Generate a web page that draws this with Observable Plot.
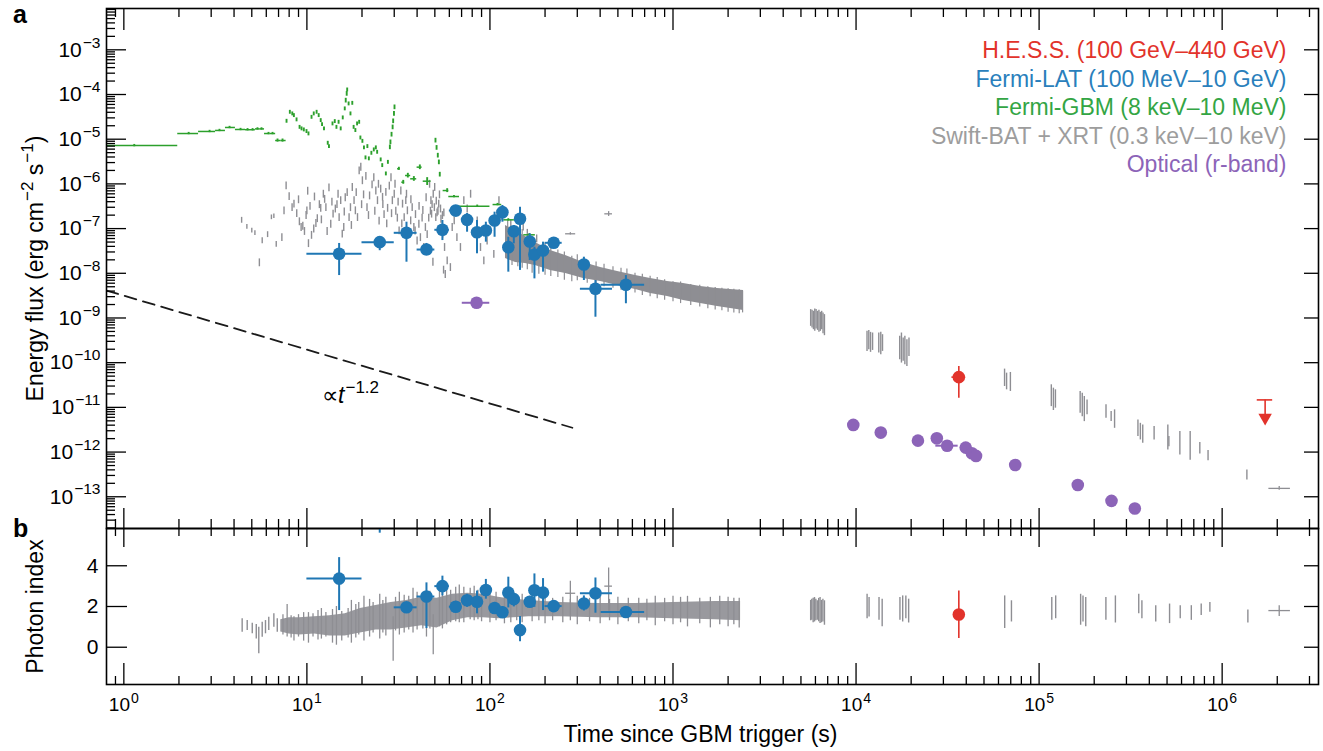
<!DOCTYPE html>
<html><head><meta charset="utf-8">
<script src="https://cdn.jsdelivr.net/npm/d3@7"></script>
<script src="https://cdn.jsdelivr.net/npm/@observablehq/plot@0.6"></script>
<style>
body{margin:0;background:#fff;}
#wrap{position:relative;width:1323px;height:751px;overflow:hidden;font-family:"Liberation Sans",Arial,Helvetica,sans-serif;}
#top,#bot{position:absolute;left:0;}
#top{top:0}
#bot{top:526px}
.pl{position:absolute;font-weight:bold;font-size:25px;color:#000;line-height:1}
</style></head><body>
<div id="wrap"><div id="top"></div><div id="bot"></div>
<div class="pl" style="left:13px;top:2px">a</div><div class="pl" style="left:13px;top:516px">b</div></div>
<script>
// ---------------- DATA ----------------
// Fermi-LAT (100 MeV-10 GeV)
const latT      = [15, 25, 35, 45, 55, 65, 75, 85, 95, 106, 117, 126, 135, 146, 165, 175, 195, 223, 326, 377, 553];
const latTLo    = [10, 20, 30, 40, 50, 60, 70, 80, 90, 100, 110, 120, 130, 140, 160, 170, 190, 200, 316, 312, 405];
const latTHi    = [20, 30, 40, 50, 60, 70, 80, 90, 100, 110, 120, 130, 140, 150, 170, 180, 200, 248, 336, 467, 700];
const latFlux   = [2.73e-8, 4.97e-8, 8.05e-8, 3.4e-8, 9.4e-8, 2.54e-7, 1.57e-7, 8.3e-8, 9.06e-8, 1.52e-7, 2.33e-7, 3.84e-8, 8.7e-8, 1.66e-7, 5.14e-8, 2.63e-8, 3.24e-8, 4.81e-8, 1.57e-8, 4.5e-9, 5.53e-9];
const latFluxLo = [8.9e-9, 3.2e-8, 1.77e-8, 2.64e-8, 5.4e-8, 1.8e-7, 8.3e-8, 2.73e-8, 4.97e-8, 6.4e-8, 1.39e-7, 1.06e-8, 4.57e-8, 1.16e-8, 1.93e-8, 7.5e-9, 1.06e-8, 3.84e-8, 6.9e-9, 1.04e-9, 2.08e-9];
const latFluxHi = [4.65e-8, 6.4e-8, 1.39e-7, 4.65e-8, 1.52e-7, 3.29e-7, 2.18e-7, 1.52e-7, 1.39e-7, 2.33e-7, 3.29e-7, 6.4e-8, 1.17e-7, 3.0e-7, 7.65e-8, 3.84e-8, 4.97e-8, 5.9e-8, 2.29e-8, 6.9e-9, 8.9e-9];
const latIdx    = [3.37, 6.6, 1.96, 2.49, 3.0, 1.99, 2.31, 2.23, 2.81, 1.93, 1.72, 2.68, 2.36, 0.84, 2.23, 2.80, 2.68, 2.02, 2.15, 2.65, 1.73];
const latIdxLo  = [1.80, 5.6, 1.72, 0.92, 2.52, 1.75, 1.96, 1.64, 2.36, 1.65, 1.45, 1.93, 1.98, 0.27, 1.96, 1.96, 1.80, 1.80, 1.78, 1.67, 1.50];
const latIdxHi  = [4.40, 7.6, 2.2, 3.16, 3.49, 2.25, 2.6, 2.76, 3.33, 2.2, 2.0, 3.44, 2.6, 1.51, 2.5, 3.6, 3.37, 2.25, 2.52, 3.4, 1.95];

// Optical (r-band)
const optT    = [84.5, 9660, 13650, 21780, 27620, 31450, 39720, 42940, 45230, 74050, 162700, 248600, 333400];
const optTLo  = [70.6, 9660, 13650, 21780, 27620, 27280, 39720, 42940, 45230, 74050, 162700, 248600, 333400];
const optTHi  = [99.8, 9660, 13650, 21780, 27620, 36120, 39720, 42940, 45230, 74050, 162700, 248600, 333400];
const optFlux = [2.19e-9, 4.05e-12, 2.73e-12, 1.80e-12, 2.03e-12, 1.39e-12, 1.26e-12, 9.4e-13, 8.2e-13, 5.13e-13, 1.83e-13, 8.1e-14, 5.47e-14];

// H.E.S.S. (100 GeV-440 GeV)
const hessT = [36430], hessTLo = [33400], hessTHi = [39700];
const hessFlux = [4.75e-11], hessFluxLo = [1.6e-11], hessFluxHi = [8.2e-11];
const hessIdx = [1.61], hessIdxLo = [0.43], hessIdxHi = [2.76];
// H.E.S.S. upper limit: [t, tLo, tHi, limit, arrow end]
const hessUL = [[1.717e6, 1.555e6, 1.888e6, 1.47e-11, 5.9e-12]];

// Fermi-GBM: [t, tLo, tHi, flux, relative error]
const gbm = [
  [1.14,0.5,1.97,7.2e-6,.06],[2.26,1.97,2.56,1.34e-5,.06],[2.94,2.56,3.17,1.49e-5,.06],[3.33,3.17,3.59,1.57e-5,.06],
  [3.78,3.59,4.07,1.83e-5,.06],[4.34,4.07,4.62,1.65e-5,.06],[4.74,4.62,4.92,1.63e-5,.06],[5.05,4.92,5.23,1.63e-5,.06],
  [5.37,5.23,5.52,1.7e-5,.06],[5.65,5.52,5.87,1.7e-5,.06],[6.17,5.87,6.3,1.34e-5,.06],[6.49,6.3,6.75,1.34e-5,.06],
  [6.91,6.75,7.2,9.35e-6,.08],[7.36,7.2,7.7,9.35e-6,.08],
  [7.74,7.74,7.74,2.53e-5,.1],[8.07,8.07,8.07,4.02e-5,.1],[8.32,8.32,8.32,3.7e-5,.1],[8.49,8.49,8.49,3.39e-5,.1],
  [8.78,8.78,8.78,2.72e-5,.1],[9.12,9.12,9.12,1.85e-5,.1],[9.35,9.35,9.35,1.71e-5,.1],[9.62,9.62,9.62,1.62e-5,.1],
  [9.95,9.95,9.95,1.49e-5,.1],[10.2,10.2,10.2,1.32e-5,.1],[10.6,10.6,10.6,3.1e-5,.1],[10.9,10.9,10.9,3.7e-5,.1],
  [11.3,11.3,11.3,4.02e-5,.1],[11.6,11.6,11.6,3.39e-5,.1],[11.9,11.9,11.9,2.62e-5,.1],[12.1,12.1,12.1,2.13e-5,.1],
  [12.4,12.4,12.4,1.71e-5,.1],[13.0,13.0,13.0,8.15e-6,.1],[13.2,13.2,13.2,6.87e-6,.1],[13.8,13.8,13.8,2.21e-5,.1],
  [14.2,14.2,14.2,2.49e-5,.1],[14.5,14.5,14.5,1.85e-5,.1],[14.9,14.9,14.9,2.4e-5,.1],[15.3,15.3,15.3,1.71e-5,.1],
  [15.7,15.7,15.7,3.01e-5,.1],[16.1,16.1,16.1,4.79e-5,.1],[16.3,16.3,16.3,7.34e-5,.12],[16.5,16.5,16.5,1.04e-4,.12],
  [16.6,16.6,16.6,1.27e-4,.1],[16.9,16.9,16.9,6.19e-5,.1],[17.3,17.3,17.3,3.7e-5,.1],[17.7,17.7,17.7,6.38e-5,.1],
  [18.0,18.0,18.0,1.85e-5,.1],[18.4,18.4,18.4,1.57e-5,.1],[18.8,18.8,18.8,2.21e-5,.1],[19.3,19.3,19.3,2.4e-5,.1],
  [19.6,19.6,19.6,1.07e-5,.1],[20.1,20.1,20.1,9.0e-6,.1],[20.5,20.5,20.5,6.43e-6,.1],[20.9,20.9,20.9,3.84e-6,.1],
  [21.4,21.4,21.4,6.87e-6,.1],[21.8,21.8,21.8,3.65e-6,.1],[22.5,22.5,22.5,4.86e-6,.1],[23.2,23.2,23.2,5.79e-6,.1],
  [23.8,23.8,23.8,6.43e-6,.1],[24.2,24.2,24.2,5.12e-6,.1],[25.3,25.3,25.3,3.46e-6,.1],[25.8,25.8,25.8,2.58e-6,.1],
  [27.0,27.0,27.0,1.68e-6,.1],[27.7,27.7,27.7,3.05e-6,.1],[28.4,28.4,28.4,6.62e-6,.12],[28.6,28.6,28.6,8.57e-6,.12],
  [29.0,29.0,29.0,1.27e-5,.12],[29.4,29.4,29.4,1.85e-5,.12],[29.6,29.6,29.6,2.53e-5,.12],[29.9,29.9,29.9,3.7e-5,.12],
  [30.1,30.1,30.1,5.2e-5,.12],
  [31.8,31.3,32.3,2.18e-6,.08],[33.6,33.0,34.2,1.09e-6,.1],[35.6,34.6,36.9,1.54e-6,.12],[38.4,36.9,39.8,1.30e-6,.12],
  [41.4,40.0,42.6,2.37e-6,.12],[45.4,43.2,47.7,1.15e-6,.2],
  [50.4,50.4,50.4,9.35e-6,.12],[51.1,51.1,51.1,6.43e-6,.12],[51.9,51.9,51.9,4.31e-6,.12],[52.6,52.6,52.6,3.05e-6,.12],
  [53.2,53.2,53.2,1.62e-6,.12],
  [58.4,55.5,59.6,7.1e-7,.1],[63.6,59.6,68.2,5.22e-7,.06],[85.2,66.3,100,3.17e-7,.06],[110,104,116,3.45e-7,.06],
  [126,119,136,1.57e-7,.06],[164,153,177,7.26e-8,.06]
];

// Swift-BAT + XRT, early scattered points: [t, flux, relative error]
const xrtEarly = [
  [4.4,1.55e-7,.15],[4.7,1.1e-7,.12],[5.0,9.1e-8,.12],[5.2,8.0e-8,.12],[5.5,1.75e-8,.2],[5.7,5.4e-8,.15],[6.1,7.4e-8,.15],
  [6.4,1.8e-7,.12],[6.6,1.9e-7,.12],[6.8,4.5e-8,.15],[7.3,6.4e-8,.2],[7.5,2.55e-7,.2],[7.7,9.2e-7,.2],[8.0,5.3e-7,.2],
  [8.3,3.0e-7,.2],[8.5,3.6e-7,.2],[8.8,2.2e-7,.2],[9.0,4.5e-7,.2],[9.1,1.45e-7,.2],[9.3,1.08e-7,.2],[9.5,1.15e-7,.2],[9.7,8.8e-8,.2],[9.9,2.0e-7,.2],
  [10.0,2.55e-7,.2],[10.1,7.0e-7,.2],[10.2,4.7e-8,.2],[10.4,3.2e-7,.2],[10.6,7.2e-8,.2],[10.9,1.0e-7,.2],[11.0,5.2e-7,.2],[11.2,1.33e-7,.2],[11.4,1.7e-7,.2],
  [11.7,3.5e-7,.2],[11.9,2.9e-7,.2],[12.0,1.6e-7,.2],[12.3,6.0e-7,.2],[12.5,4.6e-7,.2],[12.7,3.0e-7,.2],[13.2,8.3e-7,.2],[12.9,8.8e-8,.2],[13.5,1.28e-7,.2],
  [13.7,4.0e-7,.2],[13.9,2.15e-7,.2],[14.3,2.8e-7,.2],[14.6,3.5e-7,.2],[14.8,6.0e-7,.2],[15.0,1.8e-7,.2],[15.3,4.3e-7,.2],[15.6,7.7e-8,.2],[15.9,1.08e-7,.2],
  [16.0,2.4e-7,.2],[16.2,5.0e-7,.2],[16.6,6.5e-7,.2],[17.0,1.8e-7,.2],[17.3,3.0e-7,.2],[17.5,1.2e-7,.2],[17.7,8.5e-7,.2],[18.1,4.3e-7,.2],[18.4,2.55e-7,.2],
  [18.6,6.5e-7,.2],[18.9,1.8e-7,.2],[19.3,2.0e-6,.2],[19.7,2.4e-6,.2],[19.9,3.5e-7,.2],[20.1,1.2e-6,.2],[20.4,5.8e-7,.2],[21.0,1.5e-6,.2],[21.3,3.0e-7,.2],
  [21.7,2.0e-7,.2],[22.0,5.5e-7,.2],[22.7,9.7e-7,.2],[23.2,1.4e-6,.2],[23.5,2.5e-7,.2],[23.8,7.1e-7,.2],[24.3,4.3e-7,.2],[24.6,1.0e-6,.2],[24.8,1.5e-7,.2],
  [25.3,7.8e-7,.2],[25.9,5.1e-7,.2],[26.0,3.5e-7,.2],[26.4,2.1e-7,.2],[27.0,6.6e-7,.2],[27.3,1.3e-7,.2],[27.6,2.9e-7,.2],[28.2,9.1e-7,.2],[28.8,1.4e-6,.2],
  [29.0,2.2e-7,.2],[29.3,4.3e-7,.2],[30.0,6.0e-7,.2],[30.3,1.0e-6,.2],[30.6,2.5e-7,.2],[31.2,1.75e-7,.2],[31.5,4.0e-7,.2],[31.9,9.1e-8,.2],[32.6,7.1e-7,.2],
  [33.0,1.3e-7,.2],[33.3,3.6e-7,.2],[34.0,1.8e-7,.2],[34.7,4.3e-7,.2],[35.0,6.0e-7,.2],[35.4,2.55e-7,.2],[36.2,7.5e-8,.2],[36.9,1.52e-7,.2],[37.0,4.5e-7,.2],
  [37.6,3.0e-7,.2],[38.4,1.08e-7,.2],[39.0,9.0e-8,.2],[39.2,2.1e-7,.2],[40.0,5.4e-8,.2],[40.9,1.28e-7,.2],[41.0,3.2e-7,.2],[41.7,6.4e-8,.2],[42.6,1.75e-7,.2],
  [43.0,2.6e-7,.2],[43.5,3.85e-8,.2],[44.4,1.08e-7,.2],[44.8,5.0e-7,.2],[45.4,7.5e-8,.2],[46.3,1.75e-7,.2],
  [46.8,1.0e-6,.2],[47.3,2.5e-7,.2],[47.6,4.3e-7,.2],[48.0,2.15e-7,.2],[48.3,3.5e-7,.2],[48.8,1.8e-8,.2],[49.0,6.0e-7,.2],
  [49.7,3.0e-7,.2],[49.9,8.5e-7,.2],[50.6,1.8e-7,.2],[50.9,4.2e-7,.2],[51.4,2.3e-7,.2],[52.0,2.5e-7,.2],[52.5,3.6e-7,.2],
  [53.0,5.8e-7,.2],[53.7,2.8e-7,.2],[54.0,1.65e-7,.2],[55.0,2.0e-7,.2],[55.2,7.7e-8,.2],[55.8,1.2e-8,.2],[56.0,2.3e-7,.2],
  [56.5,3.85e-8,.2],[57.0,9.6e-9,.2],[58.4,1.94e-8,.2],[60.8,1.37e-8,.2],[62.2,1.08e-7,.2],[63.8,1.52e-7,.2],[66.0,6.4e-8,.2],
  [69.0,3.85e-8,.2],[72,4.3e-7,.2],[75.1,2.8e-7,.2],[78.4,6.0e-7,.2],[81.7,7.7e-8,.2],[85.2,1.52e-7,.2],[88.8,3.85e-8,.2],
  [92.6,1.94e-8,.2],[96.5,5.4e-8,.2],[100.6,9.1e-8,.2],[105,2.7e-8,.2],[109.5,2.15e-7,.2],[112,4.3e-7,.2],
  [115,1.9e-7,.2],[122,2.4e-7,.2],[130,1.3e-7,.2],[140,1.6e-7,.2],[152,1.1e-7,.2],[160,8.0e-8,.2],[180,6.0e-8,.2]
];
// Swift-XRT dense decay band: [t, lower flux, upper flux]
const xrtBand = [
  [121.6,2.14e-8,1.17e-7],[138,1.75e-8,9.06e-8],[156,1.66e-8,6.65e-8],[177,1.50e-8,4.89e-8],[214,1.16e-8,3.24e-8],
  [259,9.9e-9,2.50e-8],[324,7.66e-9,1.75e-8],[402,6.56e-9,1.35e-8],[498,5.34e-9,1.10e-8],[624,4.34e-9,8.93e-9],
  [754,3.53e-9,7.66e-9],[933,3.03e-9,6.56e-9],[1141,2.46e-9,5.92e-9],[1413,2.11e-9,5.07e-9],[1750,1.81e-9,4.57e-9],
  [2061,1.63e-9,4.34e-9],[2427,1.47e-9,4.12e-9]
];
const xrtBandSpikes = [
  [125,2.0e-8,1.5e-7],[132,1.5e-8,1.0e-7],[142,1.4e-8,8.0e-8],[150,1.3e-8,9.5e-8],[160,1.2e-8,6.5e-8],[170,1.0e-8,5.5e-8],
  [185,9.5e-9,4.2e-8],[200,9.0e-9,4.6e-8],[215,8.5e-9,3.6e-8],[235,8.0e-9,3.3e-8],[255,7.0e-9,3.0e-8],[280,6.5e-9,2.4e-8],
  [300,6.8e-9,2.6e-8],[340,6.0e-9,1.9e-8],[380,5.2e-9,1.8e-8],[420,5.0e-9,1.6e-8],[470,4.6e-9,1.4e-8],[520,4.2e-9,1.3e-8],
  [560,3.9e-9,1.25e-8],[620,3.6e-9,1.0e-8],[680,3.2e-9,9.5e-9],[750,3.0e-9,8.6e-9],[820,2.7e-9,8.0e-9],[900,2.5e-9,7.2e-9],
  [1000,2.3e-9,6.5e-9],[1100,2.1e-9,6.4e-9],[1250,1.9e-9,5.6e-9],[1400,1.75e-9,5.4e-9],[1550,1.6e-9,5.0e-9],[1700,1.5e-9,4.8e-9],
  [1850,1.45e-9,4.6e-9],[2000,1.35e-9,4.5e-9],[2150,1.3e-9,4.4e-9],[2300,1.25e-9,4.3e-9],[2400,1.3e-9,4.0e-9]
];
// Swift-XRT late-time measurements: [t, lower flux, upper flux]
const xrtLate = [
  [5650,6.5e-10,1.54e-9],[5750,5.97e-10,1.49e-9],[5850,5.47e-10,1.41e-9],[5950,5.02e-10,1.59e-9],[6050,5.67e-10,1.54e-9],
  [6160,5.28e-10,1.41e-9],[6270,4.77e-10,1.49e-9],[6380,5.02e-10,1.34e-9],[6490,5.47e-10,1.41e-9],[6600,4.45e-10,1.29e-9],
  [6720,4.02e-10,1.19e-9],
  [11480,1.79e-10,5.02e-10],[11740,1.95e-10,5.28e-10],[12000,1.70e-10,4.77e-10],[12310,1.88e-10,4.61e-10],
  [13310,1.64e-10,4.61e-10],[13650,1.51e-10,4.77e-10],[13950,1.79e-10,4.23e-10],
  [17320,1.16e-10,3.88e-10],[17700,9.8e-11,4.61e-10],[18090,1.07e-10,3.56e-10],[18480,8.98e-11,3.88e-10],
  [18960,8.24e-11,3.27e-10],[19460,1.38e-10,3.56e-10],
  [64760,2.93e-11,7.18e-11],[66440,2.47e-11,5.83e-11],[69690,2.27e-11,6.04e-11],
  [116600,1.04e-11,3.2e-11],[119700,8.5e-12,2.69e-11],[122800,9.6e-12,2.47e-11],
  [167600,7.4e-12,2.27e-11],[172100,6.2e-12,2.08e-11],[176600,4.8e-12,1.75e-11],[182800,6.8e-12,1.47e-11],
  [232000,5.7e-12,1.14e-11],[247500,4.8e-12,8.1e-12],[258400,3.4e-12,8.8e-12],
  [346700,2.22e-12,5.25e-12],[357400,1.87e-12,4.4e-12],[368300,1.57e-12,4.05e-12],[424900,1.87e-12,3.72e-12],
  [505000,1.11e-12,4.05e-12],[511700,1.32e-12,2.22e-12],[587500,8.6e-13,2.87e-12],[668800,6.6e-13,2.87e-12],
  [755100,9.1e-13,1.63e-12],[837500,6.4e-13,1.08e-12],[1365000,2.36e-13,3.96e-13]
];
// Swift crosses: [t, tLo, tHi, flux, fluxLo, fluxHi, index, indexLo, indexHi]
const xrtCross = [
  [275, 259, 294, 7.65e-8, 7.2e-8, 8.1e-8, 2.65, 2.12, 3.24],
  [445, 424, 467, 2.14e-7, 1.87e-7, 2.4e-7, 3.0, 1.72, 3.89],
  [2.05e6, 1.80e6, 2.36e6, 1.54e-13, 1.4e-13, 1.69e-13, 1.80, 1.51, 2.04]
];
// Swift photon index: early bars, dense band, spikes, late bars  [t, lower, upper]
const idxEarlyBars = [[4.43,0.74,1.40],[4.72,0.82,1.31],[5.03,0.66,1.18],[5.29,0.41,1.12],[5.46,-0.32,0.98],[5.70,0.49,1.23],[5.94,0.66,1.31],[6.19,0.82,1.47],[6.60,0.98,1.64],[6.89,0.74,1.40]];
const idxBand = [[7.2,0.75,1.35],[8,0.65,1.45],[9.1,0.6,1.45],[11,0.65,1.5],[13.3,0.55,1.55],[16.2,0.55,1.65],[19.6,0.7,1.9],[23.8,0.85,2.05],[28.8,0.85,2.2],[35,0.95,2.3],[42.4,1.05,2.45],[51.4,0.95,2.4],[62.5,1.3,2.6],[75.7,1.45,2.65],[92,1.45,2.6],[111,1.4,2.45],[135,1.45,2.35],[163,1.5,2.3],[240,1.5,2.2],[390,1.45,2.15],[630,1.45,2.15],[1000,1.4,2.2],[1700,1.35,2.25],[2340,1.3,2.25]];
const idxSpikes = [[7.4,0.6,1.6],[7.8,0.5,2.1],[8.2,0.45,1.55],[8.5,0.3,1.5],[9.0,0.5,1.6],[9.6,0.3,1.7],[10.2,0.2,1.7],[10.8,0.5,1.65],[11.5,0.35,1.8],[12.0,0.4,1.9],[12.7,0.5,1.7],[13.8,0.2,1.85],[14.5,0.1,2.0],[15.5,0.3,1.75],[16.8,0.45,1.9],[17.5,0.2,2.3],[18.5,0.45,2.1],[19.2,0.6,2.2],[20.5,0.3,2.5],[22,0.5,2.35],[23,0.7,2.2],[25,0.4,2.6],[26,0.7,2.3],[27,0.55,2.45],[29.6,-0.69,1.5],[30.5,0.8,2.45],[32,0.6,2.7],[34,0.7,2.55],[36,0.85,2.5],[38,0.7,2.9],[40,0.85,2.7],[43,0.9,2.6],[45,0.5,2.7],[47,0.9,2.75],[49,-0.37,1.6],[53,1.0,2.8],[55,0.9,3.0],[58,1.1,2.85],[61,1.2,2.8],[65,1.25,2.95],[68,1.2,3.05],[72,1.2,2.95],[78,1.35,2.9],[82,1.3,3.0],[86,1.35,2.8],[90,1.25,2.85],[100,1.2,2.9],[108,1.3,2.7],[120,1.15,2.75],[130,1.2,2.6],[140,1.3,2.55],[150,1.2,2.6],[170,1.25,2.55],[185,1.3,2.45],[200,1.15,2.5],[220,1.3,2.4],[250,1.2,2.45],[275,1.3,2.35],[300,1.1,2.5],[350,1.25,2.4],[400,1.15,2.45],[450,1.3,2.35],[500,1.1,2.45],[570,1.25,2.4],[650,1.15,2.4],[720,1.3,2.35],[800,1.05,2.5],[900,1.25,2.4],[1000,1.1,2.5],[1100,1.2,2.45],[1200,1.0,2.5],[1400,1.15,2.4],[1600,0.95,2.45],[1800,1.1,2.5],[2000,1.0,2.45],[2150,1.1,2.4],[2300,0.95,2.4]];
const idxLate = [[5650,1.3,2.3],[5730,1.32,2.36],[5830,1.2,2.4],[5930,1.24,2.44],[6030,1.3,2.35],[6140,1.32,2.28],[6250,1.25,2.4],[6360,1.16,2.44],[6470,1.2,2.3],[6590,1.24,2.36],[6720,1.08,2.28],
  [11490,1.4,2.6],[11780,1.48,2.44],[13350,1.32,2.44],[13890,1.0,2.36],
  [17370,1.32,2.44],[17980,1.24,2.52],[18710,1.4,2.52],[19380,1.19,2.36],
  [64870,0.92,2.52],[70620,1.24,2.28],[117300,1.32,2.44],[123200,1.4,2.52],
  [168600,1.08,2.6],[173700,1.24,2.52],[179800,1.0,2.44],[231700,1.32,2.44],[261100,1.19,2.52],
  [350200,1.64,2.6],[364400,1.4,2.28],[433700,1.24,2.04],[516100,1.16,2.12],[590200,1.4,2.04],[678500,1.32,2.04],
  [768400,1.56,2.12],[857000,1.72,2.2],[1382000,1.19,1.83]];

// Power-law guide (∝ t^-1.2), end points
const plT = [0.804, 282];
const plFlux = [4.1e-9, 3.5e-12];
const plLabel = [{t: 12.1, flux: 1.85e-11, text: "∝_t_^{−1.2}"}];

// Legend
const legendLabels = ["H.E.S.S. (100 GeV–440 GeV)", "Fermi-LAT (100 MeV–10 GeV)", "Fermi-GBM (8 keV–10 MeV)", "Swift-BAT + XRT (0.3 keV–10 keV)", "Optical (r-band)"];

// Axis ticks
const majorY = [1e-13, 1e-12, 1e-11, 1e-10, 1e-9, 1e-8, 1e-7, 1e-6, 1e-5, 1e-4, 1e-3];
const majorX = [1, 10, 100, 1e3, 1e4, 1e5, 1e6];
const idxTicks = [0, 2, 4];

// ---------------- STYLE ----------------
const hessColor = "#e2332b", latColor = "#1f77b4", gbmColor = "#2ca02c", xrtColor = "#8e8e93", optColor = "#8c64b8";
const legendColors = [hessColor, "#2a7fbc", "#33a544", "#9d9d9d", optColor];
const xDomain = [0.804, 3.36e6];
const FONT = "Liberation Sans, Arial, Helvetica, sans-serif";

const minorOf = (lo, hi) => { const out = []; for (let k = lo; k <= hi; k++) for (let m = 2; m <= 9; m++) out.push(m * Math.pow(10, k)); return out; };
const minorY = minorOf(-14, -3).filter(v => v > 1.95e-14 && v < 8.4e-3);
const minorX = minorOf(-1, 6).filter(v => v > xDomain[0] && v < xDomain[1]);
const fmtPow = d => "10^{" + String(Math.round(Math.log10(d))).replace("-", "−") + "}";
const blank = () => "";

const lat = latT.map((t, i) => ({t, tLo: latTLo[i], tHi: latTHi[i], f: latFlux[i], fLo: latFluxLo[i], fHi: latFluxHi[i], idx: latIdx[i], iLo: latIdxLo[i], iHi: latIdxHi[i]}));
const opt = optT.map((t, i) => ({t, tLo: optTLo[i], tHi: optTHi[i], f: optFlux[i]}));
const hess = hessT.map((t, i) => ({t, tLo: hessTLo[i], tHi: hessTHi[i], f: hessFlux[i], fLo: hessFluxLo[i], fHi: hessFluxHi[i], idx: hessIdx[i], iLo: hessIdxLo[i], iHi: hessIdxHi[i]}));
const pl = plT.map((t, i) => ({t, f: plFlux[i]}));

const axStyle = {strokeWidth: 1.3, fontSize: 20};

// ---------------- TOP PANEL ----------------
const topPlot = Plot.plot({
  width: 1323, height: 530,
  marginLeft: 106, marginRight: 5, marginTop: 8, marginBottom: 2,
  style: {fontFamily: FONT, background: "none", overflow: "visible", color: "#000"},
  x: {type: "log", domain: xDomain},
  y: {type: "log", domain: [1.95e-14, 8.4e-3]},
  marks: [
    Plot.ruleX(xrtEarly, {x: d => d[0], y1: d => d[1] * (1 - d[2]), y2: d => d[1] * (1 + d[2]), stroke: xrtColor, strokeWidth: 1.4}),
    Plot.areaY(xrtBand, {x: d => d[0], y1: d => d[1], y2: d => d[2], fill: xrtColor}),
    Plot.ruleX(xrtBandSpikes, {x: d => d[0], y1: d => d[1], y2: d => d[2], stroke: xrtColor, strokeWidth: 1.2}),
    Plot.ruleX(xrtLate, {x: d => d[0], y1: d => d[1], y2: d => d[2], stroke: xrtColor, strokeWidth: 1.4}),
    Plot.ruleY(xrtCross, {y: d => d[3], x1: d => d[1], x2: d => d[2], stroke: xrtColor, strokeWidth: 1.3}),
    Plot.ruleX(xrtCross, {x: d => d[0], y1: d => d[4], y2: d => d[5], stroke: xrtColor, strokeWidth: 1.3}),
    Plot.ruleY(gbm.filter(d => d[2] > d[1]), {y: d => d[3], x1: d => d[1], x2: d => d[2], stroke: gbmColor, strokeWidth: 1.5, clip: true}),
    Plot.ruleX(gbm, {x: d => d[0], y1: d => d[3] * (1 - d[4]), y2: d => d[3] * (1 + d[4]), stroke: gbmColor, strokeWidth: 1.9, clip: true}),
    Plot.line(pl, {x: "t", y: "f", stroke: "#1a1a1a", strokeWidth: 1.8, strokeDasharray: "12,7", clip: true}),
    Plot.text(plLabel, {x: "t", y: "flux", text: "text", textAnchor: "start", fontSize: 23, fill: "#000"}),
    Plot.ruleY(lat, {y: "f", x1: "tLo", x2: "tHi", stroke: latColor, strokeWidth: 2}),
    Plot.ruleX(lat, {x: "t", y1: "fLo", y2: "fHi", stroke: latColor, strokeWidth: 2}),
    Plot.dot(lat, {x: "t", y: "f", r: 6.3, fill: latColor}),
    Plot.ruleY(opt.filter(d => d.tHi > d.tLo), {y: "f", x1: "tLo", x2: "tHi", stroke: optColor, strokeWidth: 2}),
    Plot.dot(opt, {x: "t", y: "f", r: 6.3, fill: optColor}),
    Plot.ruleY(hess, {y: "f", x1: "tLo", x2: "tHi", stroke: hessColor, strokeWidth: 1.6}),
    Plot.ruleX(hess, {x: "t", y1: "fLo", y2: "fHi", stroke: hessColor, strokeWidth: 1.6}),
    Plot.dot(hess, {x: "t", y: "f", r: 6.3, fill: hessColor}),
    Plot.ruleY(hessUL, {y: d => d[3], x1: d => d[1], x2: d => d[2], stroke: hessColor, strokeWidth: 1.6}),
    Plot.ruleX(hessUL, {x: d => d[0], y1: d => d[3], y2: d => d[4], stroke: hessColor, strokeWidth: 1.6}),
    Plot.dot(hessUL, {x: d => d[0], y: d => d[4], symbol: "triangle", rotate: 180, r: 5, fill: hessColor}),
    ...legendLabels.map((lab, i) => Plot.text([lab], {text: d => d, frameAnchor: "top-right", dx: -32, dy: 33.4 + i * 28.5, textAnchor: "end", fill: legendColors[i], fontSize: 23})),
    Plot.axisY(majorY, {anchor: "left", tickSize: -20, tickPadding: 26, tickFormat: fmtPow, label: "Energy flux (erg cm^{−2} s^{−1})", labelAnchor: "center", labelOffset: 80, labelArrow: "none", ...axStyle, fontSize: 21}),
    Plot.axisY(minorY, {anchor: "left", tickSize: -9, tickFormat: blank, label: null, ...axStyle}),
    Plot.axisY(majorY, {anchor: "right", tickSize: -15, tickFormat: blank, label: null, ...axStyle}),
    Plot.axisX(majorX, {anchor: "top", tickSize: -21, tickFormat: blank, label: null, ...axStyle}),
    Plot.axisX(minorX, {anchor: "top", tickSize: -8, tickFormat: blank, label: null, ...axStyle}),
    Plot.axisX(majorX, {anchor: "bottom", tickSize: -20, tickFormat: blank, label: null, ...axStyle}),
    Plot.axisX(minorX, {anchor: "bottom", tickSize: -9, tickFormat: blank, label: null, ...axStyle}),
    Plot.frame({stroke: "#000", strokeWidth: 1.6})
  ]
});

// ---------------- BOTTOM PANEL ----------------
const botPlot = Plot.plot({
  width: 1323, height: 225,
  marginLeft: 106, marginRight: 5, marginTop: 2, marginBottom: 67,
  style: {fontFamily: FONT, background: "none", overflow: "visible", color: "#000"},
  x: {type: "log", domain: xDomain},
  y: {domain: [-1.83, 5.83]},
  marks: [
    Plot.ruleX(idxEarlyBars, {x: d => d[0], y1: d => d[1], y2: d => d[2], stroke: xrtColor, strokeWidth: 1.4}),
    Plot.areaY(idxBand, {x: d => d[0], y1: d => d[1], y2: d => d[2], fill: xrtColor, fillOpacity: 0.9}),
    Plot.ruleX(idxSpikes, {x: d => d[0], y1: d => d[1], y2: d => d[2], stroke: xrtColor, strokeWidth: 1.3}),
    Plot.ruleX(idxLate, {x: d => d[0], y1: d => d[1], y2: d => d[2], stroke: xrtColor, strokeWidth: 1.4}),
    Plot.ruleY(xrtCross, {y: d => d[6], x1: d => d[1], x2: d => d[2], stroke: xrtColor, strokeWidth: 1.3}),
    Plot.ruleX(xrtCross, {x: d => d[0], y1: d => d[7], y2: d => d[8], stroke: xrtColor, strokeWidth: 1.3}),
    Plot.ruleY(lat, {y: "idx", x1: "tLo", x2: "tHi", stroke: latColor, strokeWidth: 2, clip: true}),
    Plot.ruleX(lat, {x: "t", y1: "iLo", y2: "iHi", stroke: latColor, strokeWidth: 2, clip: true}),
    Plot.dot(lat, {x: "t", y: "idx", r: 6.3, fill: latColor, clip: true}),
    Plot.ruleX(hess, {x: "t", y1: "iLo", y2: "iHi", stroke: hessColor, strokeWidth: 1.6}),
    Plot.dot(hess, {x: "t", y: "idx", r: 6.3, fill: hessColor}),
    Plot.axisY(idxTicks, {anchor: "left", tickSize: -21, tickPadding: 29, label: "Photon index", labelAnchor: "center", labelOffset: 80, labelArrow: "none", ...axStyle, fontSize: 21}),
    Plot.axisY(idxTicks, {anchor: "right", tickSize: -15, tickFormat: blank, label: null, ...axStyle}),
    Plot.axisX(majorX, {anchor: "top", tickSize: -18, tickFormat: blank, label: null, ...axStyle}),
    Plot.axisX(minorX, {anchor: "top", tickSize: -7, tickFormat: blank, label: null, ...axStyle}),
    Plot.axisX(majorX, {anchor: "bottom", tickSize: -21, tickPadding: 34, tickFormat: fmtPow, label: "Time since GBM trigger (s)", labelAnchor: "center", labelOffset: 57, labelArrow: "none", ...axStyle, fontSize: 19}),
    Plot.axisX(minorX, {anchor: "bottom", tickSize: -8, tickFormat: blank, label: null, ...axStyle}),
    Plot.frame({stroke: "#000", strokeWidth: 1.6})
  ]
});

// ---------------- RICH TEXT (superscripts / italics) ----------------
function rich(svg) {
  for (const t of svg.querySelectorAll("text")) {
    const s = t.textContent;
    if (!/\^\{|_[^_]+_/.test(s)) continue;
    const parts = s.split(/(\^\{[^}]*\}|_[^_]+_)/).filter(p => p);
    while (t.firstChild) t.removeChild(t.firstChild);
    let up = false;
    for (const p of parts) {
      const ts = document.createElementNS("http://www.w3.org/2000/svg", "tspan");
      if (p.startsWith("^{")) {
        ts.textContent = p.slice(2, -1);
        ts.setAttribute("font-size", "0.74em");
        ts.setAttribute("dy", "-0.58em");
        ts.setAttribute("dx", "1");
        up = true;
      } else {
        if (p.startsWith("_")) { ts.textContent = p.slice(1, -1); ts.setAttribute("font-style", "italic"); }
        else ts.textContent = p;
        if (up) { ts.setAttribute("dy", "0.43em"); up = false; }
      }
      t.appendChild(ts);
    }
  }
  for (const g of svg.querySelectorAll('[aria-label$="axis label"]')) {
    g.setAttribute("font-size", "23");
    for (const t of g.querySelectorAll("text")) t.style.fontSize = "23px";
  }
  for (const g of svg.querySelectorAll('[aria-label="x-axis label"] text')) g.setAttribute("dx", "-12");
}
rich(topPlot); rich(botPlot);
document.getElementById("top").appendChild(topPlot);
document.getElementById("bot").appendChild(botPlot);
</script>
</body></html>
